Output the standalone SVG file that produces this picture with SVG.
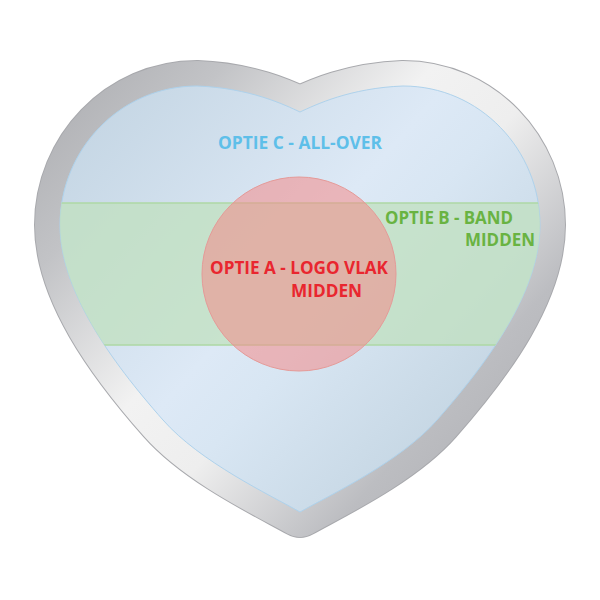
<svg xmlns="http://www.w3.org/2000/svg" width="600" height="600" viewBox="0 0 600 600">
  <defs>
    <path id="heart" d="M300,112 C315,105 350,88 403,86 C480,86 540,150 540,225 C540,290 490,360 437,420 C400,462 330,495 300,512 C270,495 200,462 163,420 C110,360 60,290 60,225 C60,150 120,86 197,86 C250,88 285,105 300,112 Z"/>
    <clipPath id="heartClip"><use href="#heart"/></clipPath>
    <linearGradient id="silver" gradientUnits="userSpaceOnUse" x1="35" y1="61" x2="565" y2="537">
      <stop offset="0" stop-color="#a9aaae"/>
      <stop offset="0.2" stop-color="#c2c3c6"/>
      <stop offset="0.42" stop-color="#f2f2f2"/>
      <stop offset="0.55" stop-color="#eeeeee"/>
      <stop offset="0.75" stop-color="#bcbdc1"/>
      <stop offset="1" stop-color="#a7a8ac"/>
    </linearGradient>
    <linearGradient id="blue" gradientUnits="userSpaceOnUse" x1="60" y1="86" x2="540" y2="512">
      <stop offset="0" stop-color="#c1d3e1"/>
      <stop offset="0.45" stop-color="#dde9f6"/>
      <stop offset="0.55" stop-color="#d8e6f3"/>
      <stop offset="1" stop-color="#b8cbd8"/>
    </linearGradient>
    <style>
      .lbl { font-family: "Open Sans", "Liberation Sans", sans-serif; font-weight: bold; font-size: 17px; }
    </style>
  </defs>

  <g id="frame">
    <use href="#heart" fill="none" stroke="#a8a9ad" stroke-width="52" stroke-linejoin="round"/>
    <use href="#heart" fill="none" stroke="url(#silver)" stroke-width="50" stroke-linejoin="round"/>
  </g>

  <g id="optie-c">
    <use href="#heart" fill="url(#blue)" stroke="#aed2ec" stroke-width="1"/>
    <text class="lbl" x="218" y="149" fill="#5ebfe9" textLength="164" lengthAdjust="spacingAndGlyphs">OPTIE C - ALL-OVER</text>
  </g>

  <g id="optie-b">
    <rect x="40" y="203" width="520" height="142" fill="#c0e0bf" fill-opacity="0.75" stroke="#b0d9a8" stroke-width="1.6" clip-path="url(#heartClip)"/>
    <text class="lbl" x="385" y="224" fill="#69b342" textLength="128" lengthAdjust="spacingAndGlyphs">OPTIE B - BAND</text>
    <text class="lbl" x="465" y="245.5" fill="#69b342" textLength="70" lengthAdjust="spacingAndGlyphs">MIDDEN</text>
  </g>

  <g id="optie-a">
    <circle cx="299" cy="274" r="97" fill="#f48a88" fill-opacity="0.55" stroke="#e59a98" stroke-width="1"/>
    <text class="lbl" x="210" y="274" fill="#e9262f" textLength="178" lengthAdjust="spacingAndGlyphs">OPTIE A - LOGO VLAK</text>
    <text class="lbl" x="291" y="296.5" fill="#e9262f" textLength="71" lengthAdjust="spacingAndGlyphs">MIDDEN</text>
  </g>
</svg>
